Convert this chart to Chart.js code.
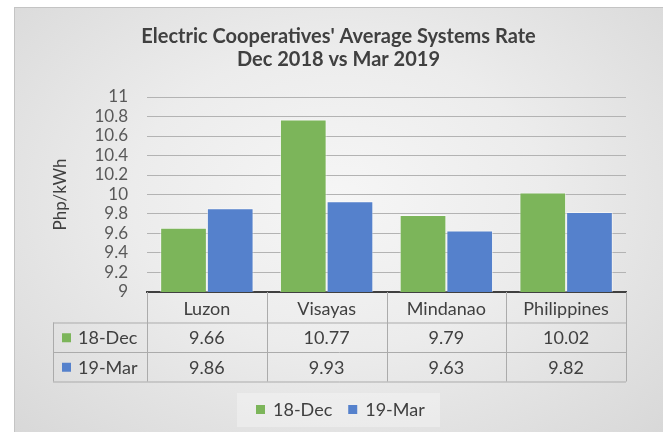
<!DOCTYPE html>
<html>
<head>
<meta charset="utf-8">
<script src="https://cdn.jsdelivr.net/npm/chart.js@4.4.1/dist/chart.umd.min.js"></script>
<style>
    body { margin: 0; background: #ffffff; }
    #panel {
        position: absolute;
        left: 14px;
        top: 7px;
        width: 649px;
        height: 425px;
        box-shadow: inset 1px 1px 0 #c4c4c4;
        background: radial-gradient(ellipse at 50% 45%, #f6f6f6 0%, #ececec 45%, #d8d8d8 100%);
    }
    #chartBox { position: absolute; left: 0; top: 0; width: 649px; height: 425px; }
</style>
</head>
<body>
<div id="panel">
    <div id="chartBox"><canvas id="myChart"></canvas></div>
</div>
<script>
const categories = ['Luzon', 'Visayas', 'Mindanao', 'Philippines'];
const seriesNames = ['18-Dec', '19-Mar'];
const dec2018 = [9.66, 10.77, 9.79, 10.02];
const mar2019 = [9.86, 9.93, 9.63, 9.82];
const yTickLabels = ['9', '9.2', '9.4', '9.6', '9.8', '10', '10.2', '10.4', '10.6', '10.8', '11'];

const green = '#7cb55a';
const blue = '#5581cc';
const textColor = '#404040';
const fontFamily = 'Lato, "Noto Sans", sans-serif';

// table under the plot plus the legend box at the bottom
const dataTable = {
    id: 'dataTable',
    afterDraw(chart) {
        const ctx = chart.ctx;
        const area = chart.chartArea;
        const x = chart.scales.x;
        const rowH = 29.5;
        const top = area.bottom + 1;
        const keyLeft = 39;
        const colW = (area.right - area.left) / categories.length;
        const sets = chart.data.datasets;

        ctx.save();
        ctx.strokeStyle = '#ababab';
        ctx.lineWidth = 1;
        ctx.beginPath();
        // horizontal lines
        ctx.moveTo(area.left, top + rowH + 0.5);
        ctx.lineTo(area.right, top + rowH + 0.5);
        ctx.moveTo(keyLeft, top + rowH + 0.5);
        ctx.lineTo(area.left, top + rowH + 0.5);
        ctx.moveTo(keyLeft, top + 2 * rowH + 0.5);
        ctx.lineTo(area.right, top + 2 * rowH + 0.5);
        ctx.moveTo(keyLeft, top + 3 * rowH + 0.5);
        ctx.lineTo(area.right, top + 3 * rowH + 0.5);
        // vertical lines
        for (let i = 0; i <= categories.length; i++) {
            let lx = Math.round(area.left + i * colW) + 0.5;
            ctx.moveTo(lx, area.bottom);
            ctx.lineTo(lx, top + 3 * rowH);
        }
        ctx.moveTo(keyLeft + 0.5, top + rowH);
        ctx.lineTo(keyLeft + 0.5, top + 3 * rowH);
        ctx.stroke();

        ctx.font = '18px ' + fontFamily;
        ctx.fillStyle = textColor;
        ctx.textAlign = 'center';
        ctx.textBaseline = 'middle';
        for (let i = 0; i < categories.length; i++) {
            let cx = x.getPixelForValue(i);
            ctx.fillText(categories[i], cx, top + rowH / 2 + 1);
            for (let j = 0; j < sets.length; j++) {
                ctx.fillText(sets[j].data[i].toFixed(2), cx, top + (j + 1.5) * rowH + 1);
            }
        }

        // series keys in the first column
        ctx.textAlign = 'left';
        for (let j = 0; j < sets.length; j++) {
            let cy = top + (j + 1.5) * rowH;
            ctx.fillStyle = sets[j].backgroundColor;
            ctx.fillRect(keyLeft + 9, cy - 4, 9, 9);
            ctx.fillStyle = textColor;
            ctx.fillText(sets[j].label, keyLeft + 25, cy + 1);
        }

        // legend
        const lgTop = 386;
        ctx.fillStyle = 'rgba(255,255,255,0.3)';
        ctx.fillRect(223, lgTop, 203, 34);
        let lx = 242;
        for (let j = 0; j < sets.length; j++) {
            ctx.fillStyle = sets[j].backgroundColor;
            ctx.fillRect(lx, lgTop + 12, 9, 9);
            ctx.fillStyle = textColor;
            ctx.fillText(sets[j].label, lx + 17, lgTop + 17);
            lx += 17 + ctx.measureText(sets[j].label).width + 16;
        }
        ctx.restore();
    }
};

function init() {
    const ctx = document.getElementById('myChart');
    new Chart(ctx, {
        type: 'bar',
        data: {
            labels: categories,
            datasets: [{
                label: seriesNames[0],
                data: dec2018,
                backgroundColor: green,
                borderColor: 'rgba(255,255,255,0.5)',
                borderWidth: 1
            }, {
                label: seriesNames[1],
                data: mar2019,
                backgroundColor: blue,
                borderColor: 'rgba(255,255,255,0.5)',
                borderWidth: 1
            }]
        },
        options: {
            responsive: true,
            maintainAspectRatio: false,
            animation: false,
            categoryPercentage: 0.78,
            barPercentage: 1,
            layout: { padding: { left: 0, right: 0, top: 0, bottom: 132 } },
            plugins: {
                legend: { display: false },
                tooltip: { enabled: false },
                title: {
                    display: true,
                    text: ['Electric Cooperatives\' Average Systems Rate', 'Dec 2018 vs Mar 2019'],
                    color: textColor,
                    font: { family: fontFamily, size: 20, weight: 'bold', lineHeight: 1.15 },
                    padding: { top: 18, bottom: 26 }
                }
            },
            scales: {
                x: {
                    grid: { display: false },
                    ticks: { display: false },
                    border: { display: true, color: '#404040', width: 2 }
                },
                y: {
                    min: 9,
                    max: 11,
                    afterFit(scale) { scale.width = 133; },
                    ticks: {
                        stepSize: 0.2,
                        autoSkip: false,
                        padding: 19,
                        color: '#595959',
                        font: { family: fontFamily, size: 17 },
                        callback: (value, index) => yTickLabels[index]
                    },
                    grid: { color: '#b3b3b3', drawTicks: false },
                    border: { display: false },
                    title: {
                        display: true,
                        text: 'Php/kWh',
                        color: textColor,
                        font: { family: fontFamily, size: 17 },
                        padding: { top: 36 }
                    }
                },
                // empty right-hand axis keeps the plot clear of the panel edge
                yRight: {
                    position: 'right',
                    afterFit(scale) { scale.width = 37; },
                    ticks: { display: false },
                    grid: { display: false },
                    border: { display: false }
                }
            }
        },
        plugins: [dataTable]
    });
}

init();
</script>
</body>
</html>
